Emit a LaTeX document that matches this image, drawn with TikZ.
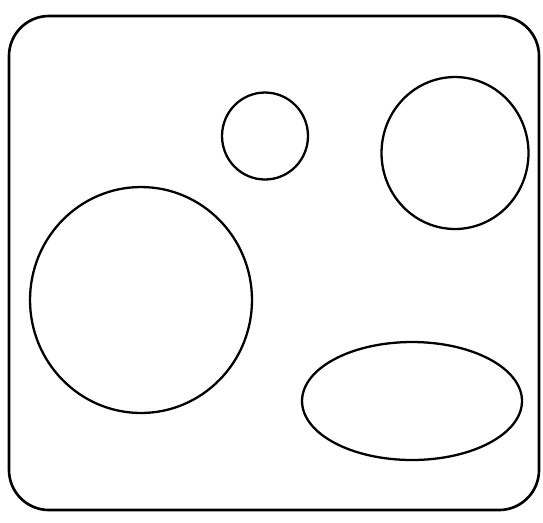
\documentclass[tikz,border=0pt]{standalone}
\usetikzlibrary{shapes.geometric}
\begin{document}
\begin{tikzpicture}[
    x=0.02cm, y=-0.02cm,
    frame/.style={draw, line width=1.5pt, rounded corners=0.8cm},
    blob/.style={ellipse, draw, line width=1.3pt, inner sep=0pt}
]
\useasboundingbox (0,0) rectangle (543,522);

% Outer box
\draw[frame] (9,16) rectangle (539,510);

% Circles
\node[blob, minimum width=1.72cm, minimum height=1.74cm] (small) at (265,136) {};
\node[blob, minimum width=2.94cm, minimum height=3.04cm] (right) at (455,153) {};
\node[blob, minimum width=4.44cm, minimum height=4.52cm] (big) at (141,300) {};

% Ellipse
\node[blob, minimum width=4.4cm, minimum height=2.36cm] (oval) at (412,401) {};

\end{tikzpicture}
\end{document}
